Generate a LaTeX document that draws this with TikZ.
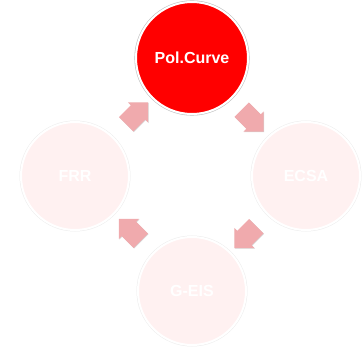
\documentclass[tikz,border=0pt]{standalone}
\usepackage{fontspec}
\setmainfont{Liberation Sans}
\usepackage{tikz}
\usetikzlibrary{shapes.arrows,calc,shadows}
\definecolor{cyred}{HTML}{FF0000}
\definecolor{cypale}{HTML}{FFF1F1}
\definecolor{cyarrow}{HTML}{F0AAAD}
\definecolor{cygray}{HTML}{9E9E9E}

\begin{document}
\begin{tikzpicture}[x=1pt, y=1pt,
  stage/.style={circle, minimum size=108pt, inner sep=0pt, fill=cypale,
                preaction={draw=cygray!20, line width=3pt}, draw=white, line width=2pt,
                text=white, font=\bfseries\fontsize{16}{19}\selectfont},
  active/.style={stage, minimum size=112pt, fill=cyred,
                 preaction={draw=cygray!60, line width=3.2pt}},
  cyarr/.style={single arrow, draw=none, fill=cyarrow, inner sep=10pt,
                minimum height=31pt, single arrow head extend=4pt,
                drop shadow={shadow xshift=0.5pt, shadow yshift=-0.5pt, opacity=0.35}}
]
\useasboundingbox (0,0) rectangle (364,351);
\node[active] (pol)  at (192,293) {Pol.Curve};
\node[stage]  (ecsa) at (306,175) {ECSA};
\node[stage]  (geis) at (192,60)  {G-EIS};
\node[stage]  (frr)  at (75,175)  {FRR};
% arrows between the stages
\node[cyarr, rotate=45]   (a1) at ($(frr)!0.5!(pol)$) {};
\node[cyarr, rotate=-45]  (a2) at ($(pol)!0.5!(ecsa)$) {};
\node[cyarr, rotate=-135] (a3) at ($(ecsa)!0.5!(geis)$) {};
\node[cyarr, rotate=135]  (a4) at ($(geis)!0.5!(frr)$) {};
\end{tikzpicture}
\end{document}
